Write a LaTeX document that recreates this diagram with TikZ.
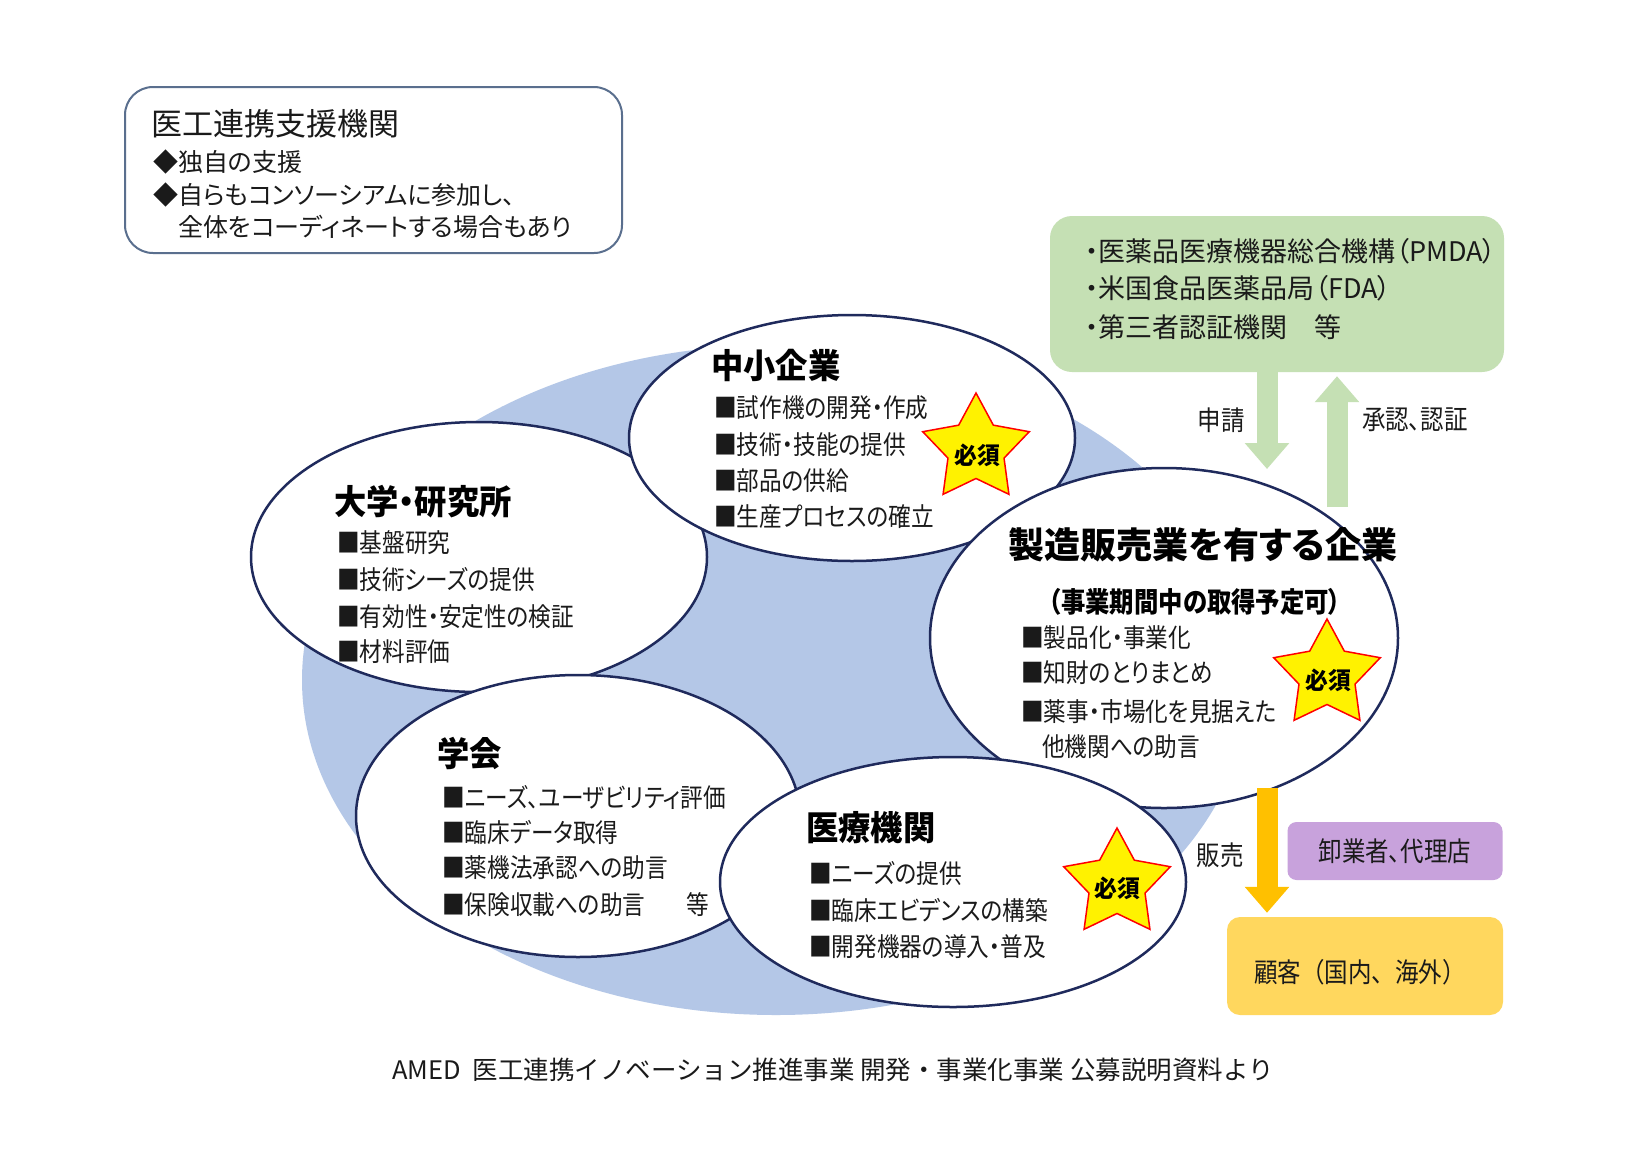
\documentclass[tikz,border=0pt]{standalone}
\usepackage{fontspec}
\setmainfont{Noto Sans CJK JP}
\newfontfamily\jpn[FakeStretch=0.87,RawFeature=+palt]{Noto Sans CJK JP}
\newfontfamily\jpw[FakeStretch=0.87]{Noto Sans CJK JP}
\newfontfamily\jpr[RawFeature=+palt]{Noto Sans CJK JP}
\newfontfamily\jpt[FakeStretch=0.95,RawFeature=+palt]{Noto Sans CJK JP}
\usetikzlibrary{shapes.geometric,arrows.meta}
\definecolor{navy}{HTML}{1F2A5C}
\definecolor{blueBG}{HTML}{B4C7E7}
\definecolor{greenBG}{HTML}{C5E0B4}
\definecolor{purpleBG}{HTML}{C8A2DC}
\definecolor{custBG}{HTML}{FFD75E}
\definecolor{orangeArr}{HTML}{FFC000}
\definecolor{starY}{HTML}{FFF200}
\definecolor{boxline}{HTML}{5A6F8E}
\definecolor{txt}{HTML}{1A1A1A}
\begin{document}
\begin{tikzpicture}[x=1pt,y=-1pt,
  ell/.style={ellipse, draw=navy, line width=2.5pt, fill=white, inner sep=0pt},
  itm/.style={anchor=west, inner sep=0pt, text=txt, font=\jpn\fontsize{26}{30}\selectfont},
  ttl/.style={anchor=west, inner sep=0pt, text=black, font=\jpt\bfseries\fontsize{34}{38}\selectfont},
  starn/.style={star, star points=5, star point ratio=1.9, minimum size=112pt, draw=red, fill=starY, line width=1.5pt, inner sep=0pt},
  startxt/.style={inner sep=0pt, text=black, font=\jpt\bfseries\fontsize{24}{28}\selectfont},
  grn/.style={anchor=west, inner sep=0pt, text=txt, font=\jpr\fontsize{27}{31}\selectfont},
  tlt/.style={anchor=west, inner sep=0pt, text=txt, font=\jpr\fontsize{25}{29}\selectfont},
  lbl/.style={inner sep=0pt, text=txt, font=\jpn\fontsize{27}{31}\selectfont},
  bigarrow/.style={line width=21pt, -{Triangle[width=43pt,length=26pt]}}
]
\useasboundingbox (0,0) rectangle (1634,1171);
\fill[white] (0,0) rectangle (1634,1171);

% top-left box
\node[draw=boxline, line width=2pt, rounded corners=28pt, minimum width=497pt, minimum height=166pt, inner sep=0pt] (supp) at (373.5,170) {};
\node[tlt, font=\jpr\fontsize{31}{35}\selectfont] (suppT) at (151,124) {医工連携支援機関};
\node[tlt] (supp1) at (153,162) {◆独自の支援};
\node[tlt] (supp2) at (153,195) {◆自らもコンソーシアムに参加し、};
\node[tlt] (supp3) at (178,227) {全体をコーディネートする場合もあり};

% green box
\node[fill=greenBG, rounded corners=22pt, minimum width=454pt, minimum height=156pt, inner sep=0pt] (reg) at (1277,294) {};
\node[grn] (reg1) at (1085,251) {・医薬品医療機器総合機構（PMDA）};
\node[grn] (reg2) at (1085,288) {・米国食品医薬品局（FDA）};
\node[grn] (reg3) at (1085,327) {・第三者認証機関　等};

% blue background
\fill[blueBG] (776,680) ellipse [x radius=474, y radius=335];

% ellipses
\node[ell, minimum width=456pt, minimum height=270pt] (daigaku) at (479,557) {};
\node[ell, minimum width=446pt, minimum height=246pt] (chusho) at (852,438) {};
\node[ell, minimum width=444pt, minimum height=282pt] (gakkai) at (578,816) {};
\node[ell, minimum width=468pt, minimum height=340pt] (seizo) at (1164,638) {};
\node[ell, minimum width=466pt, minimum height=250pt] (iryo) at (953,882) {};

% 中小企業
\node[ttl] (chT) at (711,365) {中小企業};
\node[itm] (ch1) at (714,408) {■試作機の開発・作成};
\node[itm] (ch2) at (714,445) {■技術・技能の提供};
\node[itm] (ch3) at (714,481) {■部品の供給};
\node[itm] (ch4) at (714,517) {■生産プロセスの確立};

% 大学・研究所
\node[ttl] (daT) at (334,502) {大学・研究所};
\node[itm] (da1) at (337,543) {■基盤研究};
\node[itm] (da2) at (337,580) {■技術シーズの提供};
\node[itm] (da3) at (337,617) {■有効性・安定性の検証};
\node[itm] (da4) at (337,652) {■材料評価};

% 学会
\node[ttl] (gaT) at (437,753) {学会};
\node[itm] (ga1) at (442,797) {■ニーズ、ユーザビリティ評価};
\node[itm] (ga2) at (442,832) {■臨床データ取得};
\node[itm] (ga3) at (442,868) {■薬機法承認への助言};
\node[itm] (ga4) at (442,905) {■保険収載への助言};
\node[itm] (ga5) at (686,905) {等};

% 医療機関
\node[ttl] (irT) at (806,828) {医療機関};
\node[itm] (ir1) at (809,873) {■ニーズの提供};
\node[itm] (ir2) at (809,910) {■臨床エビデンスの構築};
\node[itm] (ir3) at (809,947) {■開発機器の導入・普及};

% 製造販売業
\node[inner sep=0pt, font=\jpr\bfseries\fontsize{36}{40}\selectfont] (seT) at (1203,545) {製造販売業を有する企業};
\node[inner sep=0pt, font=\jpn\bfseries\fontsize{28}{32}\selectfont] (seS) at (1195,602) {（事業期間中の取得予定可）};
\node[itm] (se1) at (1021,638) {■製品化・事業化};
\node[itm] (se2) at (1021,673) {■知財のとりまとめ};
\node[itm] (se3) at (1021,712) {■薬事・市場化を見据えた};
\node[itm] (se4) at (1042,747) {他機関への助言};

% stars
\node[starn] (star1) at (976,449) {};
\node[startxt] (star1t) at (977,455) {必須};
\node[starn] (star2) at (1327,675) {};
\node[startxt] (star2t) at (1328,680) {必須};
\node[starn] (star3) at (1117,884) {};
\node[startxt] (star3t) at (1117,888) {必須};

% green arrows
\coordinate (apply) at (1267,372);
\coordinate (applyEnd) at (1267,469);
\coordinate (apprStart) at (1337,507);
\draw[bigarrow, greenBG] (apply) -- (applyEnd);
\draw[bigarrow, greenBG, shorten >=4pt] (apprStart) -- (reg.south -| apprStart);
\node[lbl] (lApply) at (1221,420) {申請};
\node[lbl] (lAppr) at (1415,420) {承認、認証};

% purple & customer boxes
\node[fill=purpleBG, rounded corners=9pt, minimum width=215pt, minimum height=58pt, inner sep=0pt, text=txt, font=\jpn\fontsize{27}{31}\selectfont] (whole) at (1395,851) {卸業者、代理店};
\node[fill=custBG, rounded corners=13pt, minimum width=276pt, minimum height=98pt, inner sep=0pt] (cust) at (1365,966) {};
\node[inner sep=0pt, text=txt, font=\jpw\fontsize{27}{31}\selectfont] (custT) at (1360,972) {顧客（国内、海外）};

% sales arrow
\coordinate (sellStart) at (1267,788);
\draw[bigarrow, orangeArr, shorten >=4pt] (sellStart) -- (cust.north -| sellStart);
\node[lbl] (lSell) at (1220,855) {販売};

% footer
\node[inner sep=0pt, text=txt, font=\fontsize{25.5}{29}\selectfont] (foot) at (833,1070) {AMED\ \ 医工連携イノベーション推進事業 開発・事業化事業 公募説明資料より};
\end{tikzpicture}
\end{document}
